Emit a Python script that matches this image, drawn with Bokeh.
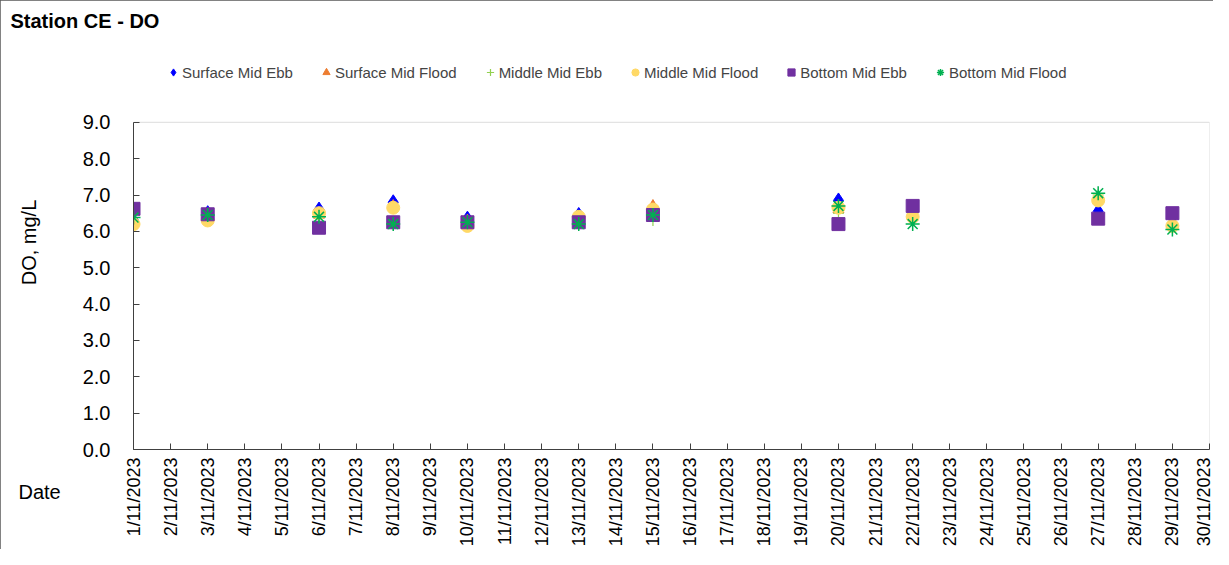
from datetime import datetime
from math import pi

from bokeh.plotting import figure
from bokeh.models import (Title, FixedTicker, NumeralTickFormatter, Range1d,
                          BoxAnnotation)
from bokeh.embed import file_html
from bokeh.resources import INLINE

# ---------------- data ----------------
tick_dates = [f"{d}/11/2023" for d in range(1, 31)]
dates = ["1/11/2023", "3/11/2023", "6/11/2023", "8/11/2023", "10/11/2023",
         "13/11/2023", "15/11/2023", "20/11/2023", "22/11/2023",
         "27/11/2023", "29/11/2023"]
surface_mid_ebb = [6.3, 6.5, 6.6, 6.8, 6.35, 6.45, 6.5, 6.85, 6.5, 6.55, 6.4]
surface_mid_flood = [6.3, 6.4, 6.45, 6.7, 6.3, 6.4, 6.7, 6.6, 6.4, 6.9, 6.2]
middle_mid_ebb = [6.2, 6.3, 6.4, 6.2, 6.2, 6.2, 6.3, 6.5, 6.3, 7.0, 6.1]
middle_mid_flood = [6.2, 6.3, 6.5, 6.65, 6.15, 6.4, 6.6, 6.65, 6.4, 6.85, 6.15]
bottom_mid_ebb = [6.62, 6.47, 6.1, 6.25, 6.25, 6.25, 6.45, 6.2, 6.7, 6.35, 6.5]
bottom_mid_flood = [6.38, 6.45, 6.4, 6.2, 6.25, 6.2, 6.45, 6.7, 6.2, 7.05, 6.05]
y_ticks = [0, 1, 2, 3, 4, 5, 6, 7, 8, 9]


def day(s):
    return datetime.strptime(s, "%d/%m/%Y").day


x = [day(s) for s in dates]
tick_days = [day(s) for s in tick_dates]

FONT = "Liberation Sans"

# layout geometry (pixels)
W, H = 1213, 549
TOP, BOTTOM, LEFT, RIGHT = 35, 99, 133, 4
PLOT_TOP = 122                      # pixel row of the 9.0 line
frame_h = H - TOP - BOTTOM
y_max = y_ticks[-1] * frame_h / (H - BOTTOM - PLOT_TOP)

p = figure(width=W, height=H, output_backend="svg", toolbar_location=None,
           x_range=Range1d(1, 30), y_range=Range1d(0, y_max),
           min_border_left=LEFT, min_border_right=RIGHT,
           min_border_top=TOP, min_border_bottom=BOTTOM,
           title="Station CE - DO")
p.styles = {"outline": "1px solid #595959", "outline-offset": "-1px"}
p.grid.visible = False
p.outline_line_color = None

# plot-area box (0..9 region)
p.add_layout(BoxAnnotation(left=tick_days[0], right=tick_days[-1],
                           bottom=y_ticks[0], top=y_ticks[-1],
                           fill_alpha=0, line_color="#8c8c8c", line_width=1,
                           level="underlay"))

# title
p.title.align = "left"
p.title.offset = -123
p.title.standoff = 5
p.title.vertical_align = "middle"
p.title.text_font = FONT
p.title.text_font_size = "20px"
p.title.text_font_style = "bold"
p.title.text_color = "#000000"

# series (draw order matters for overlap)
series = [
    ("Surface Mid Ebb", surface_mid_ebb, "diamond", "#0000FF", 15, None),
    ("Surface Mid Flood", surface_mid_flood, "triangle", "#ED7D31", 11, None),
    ("Middle Mid Ebb", middle_mid_ebb, "cross", "#92D050", 11, 1.2),
    ("Middle Mid Flood", middle_mid_flood, "circle", "#FFD966", 13, None),
    ("Bottom Mid Ebb", bottom_mid_ebb, "square", "#7030A0", 13, None),
    ("Bottom Mid Flood", bottom_mid_flood, "asterisk", "#00B050", 14, 1.5),
]
for name, ys, marker, color, size, lw in series:
    if lw is None:
        p.scatter(x, ys, marker=marker, size=size, fill_color=color,
                  line_color=color, line_width=1, legend_label=name)
    else:
        p.scatter(x, ys, marker=marker, size=size, line_color=color,
                  line_width=lw, legend_label=name)

# axes
xa = p.xaxis[0]
xa.ticker = FixedTicker(ticks=tick_days)
xa.major_label_overrides = {d: s for d, s in zip(tick_days, tick_dates)}
xa.major_label_orientation = pi / 2
xa.minor_tick_line_color = None
xa.major_tick_in = 6
xa.major_tick_out = 0
xa.major_label_standoff = 8
xa.major_label_text_font_size = "18px"
ya = p.yaxis[0]
ya.ticker = FixedTicker(ticks=y_ticks)
ya.bounds = (y_ticks[0], y_ticks[-1])
ya.formatter = NumeralTickFormatter(format="0.0")
ya.minor_tick_line_color = None
ya.major_tick_in = 6
ya.major_tick_out = 0
ya.major_label_standoff = 23
ya.major_label_text_font_size = "20px"
ya.axis_label = "DO, mg/L"
ya.axis_label_standoff = 40
ya.axis_label_text_font = FONT
ya.axis_label_text_font_size = "20px"
ya.axis_label_text_font_style = "normal"
ya.axis_label_text_color = "#000000"
for ax in (xa, ya):
    ax.axis_line_color = "#404040"
    ax.major_tick_line_color = "#404040"
    ax.major_label_text_font = FONT
    ax.major_label_text_color = "#000000"

# legend inside the (extended) frame, above the plot box
lg = p.legend[0]
lg.orientation = "horizontal"
lg.location = (31, 368)
lg.padding = 0
lg.margin = 0
lg.spacing = 24
lg.glyph_width = 18
lg.glyph_height = 18
lg.label_height = 18
lg.label_standoff = 0
lg.label_text_font = FONT
lg.label_text_font_size = "15px"
lg.label_text_baseline = "middle"
lg.border_line_color = None
lg.background_fill_alpha = 0

# "Date" as a title placed below, pulled up next to the tick labels
date_title = Title(text="Date", align="left", offset=-115, vertical_align="top",
                   standoff=-137, text_font=FONT, text_font_size="20px",
                   text_font_style="normal", text_color="#000000")
p.add_layout(date_title, "below")

open("out.html", "w").write(file_html(p, INLINE))
